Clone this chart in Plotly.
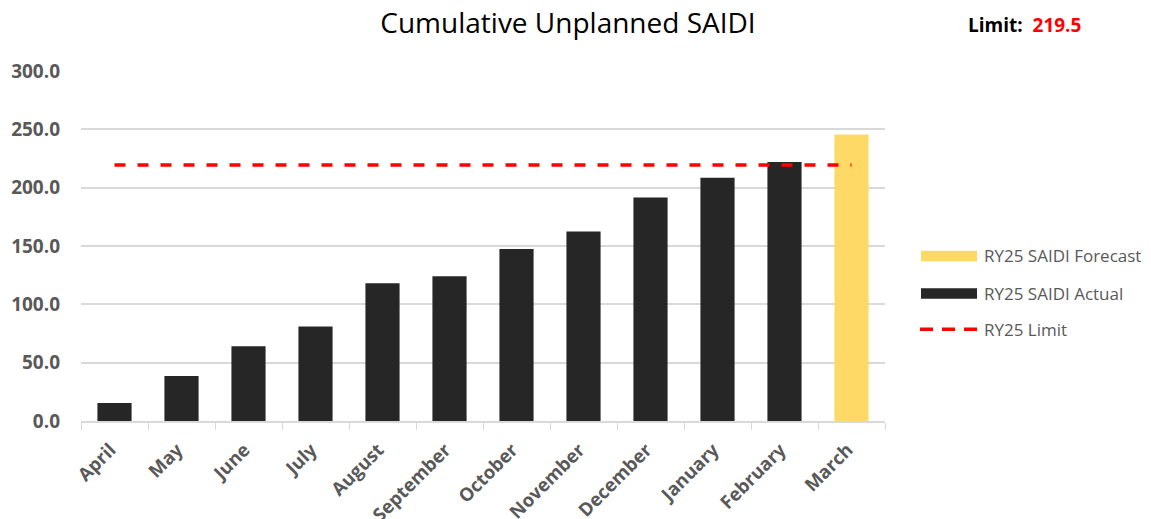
import plotly.graph_objects as go

# Monthly cumulative unplanned SAIDI (minutes)
months = ["April", "May", "June", "July", "August", "September",
          "October", "November", "December", "January", "February", "March"]
actual_months = months[:11]
actual_values = [15.5, 38.5, 64.0, 81.0, 118.0, 124.0, 147.5, 162.5, 191.5, 208.5, 222.0]
forecast_months = ["March"]
forecast_values = [245.5]
limit_value = 219.5

series_names = ["RY25 SAIDI Forecast", "RY25 SAIDI Actual", "RY25 Limit"]
y_ticks = [0, 50, 100, 150, 200, 250, 300]

COL_ACTUAL = "#262626"
COL_FORECAST = "#FFD966"
COL_LIMIT = "#FF0000"
GRID = "#D9D9D9"
TICK_TXT = "#595959"
FONT = "Open Sans"

fig = go.Figure()
fig.add_trace(go.Bar(x=actual_months, y=actual_values, name=series_names[1],
                     marker=dict(color=COL_ACTUAL, line=dict(width=0)), showlegend=False))
fig.add_trace(go.Bar(x=forecast_months, y=forecast_values, name=series_names[0],
                     marker=dict(color=COL_FORECAST, line=dict(width=0)), showlegend=False))
fig.add_trace(go.Scatter(x=months, y=[limit_value] * len(months), mode="lines",
                         name=series_names[2], showlegend=False,
                         line=dict(color=COL_LIMIT, width=3.5, dash="11px,12px")))

L, R, T, B = 81, 266, 71, 97.5
W, H = 1151, 519
pw, ph = W - L - R, H - T - B


def px_x(px):
    return (px - L) / pw


def px_y(py):
    return (H - B - py) / ph


fig.update_layout(
    width=W, height=H,
    margin=dict(l=L, r=R, t=T, b=B, pad=0, autoexpand=False),
    paper_bgcolor="white", plot_bgcolor="white",
    barmode="overlay", bargap=0.49,
    font=dict(family=FONT, color=TICK_TXT),
    title=dict(text="Cumulative Unplanned SAIDI", x=568 / W, xanchor="center",
               y=1 - 23 / H, yanchor="middle", xref="container", yref="container",
               font=dict(family=FONT, size=28, color="#000000")),
    xaxis=dict(categoryorder="array", categoryarray=months, tickangle=-45,
               tickfont=dict(family=FONT, size=18.5, color=TICK_TXT, weight="bold"),
               showline=True, linecolor=GRID, linewidth=1.5, automargin=False,
               ticks="outside", tickson="boundaries", ticklen=7, tickcolor=GRID,
               showgrid=False, ticklabelstandoff=9, ticklabelshift=-4),
    yaxis=dict(range=[0, 300], tickvals=y_ticks, tickformat=".1f", automargin=False,
               tickfont=dict(family=FONT, size=19, color=TICK_TXT, weight="bold"),
               showgrid=True, gridcolor=GRID, gridwidth=1.5, zeroline=False,
               showline=False, ticks="", ticklabelstandoff=20),
)

# Legend drawn as swatches beside the plot
fig.add_shape(type="rect", xref="paper", yref="paper",
              x0=px_x(921), x1=px_x(977), y0=px_y(261.5), y1=px_y(251),
              fillcolor=COL_FORECAST, line=dict(width=0))
fig.add_shape(type="rect", xref="paper", yref="paper",
              x0=px_x(921), x1=px_x(977), y0=px_y(299), y1=px_y(288.5),
              fillcolor=COL_ACTUAL, line=dict(width=0))
fig.add_shape(type="line", xref="paper", yref="paper",
              x0=px_x(920), x1=px_x(977), y0=px_y(329.5), y1=px_y(329.5),
              line=dict(color=COL_LIMIT, width=3.5, dash="13px,9px"))
for name, yc in zip(series_names, [255.5, 293.5, 329.5]):
    fig.add_annotation(text=name, xref="paper", yref="paper", x=px_x(982), y=px_y(yc),
                       xanchor="left", yanchor="middle", showarrow=False,
                       font=dict(family=FONT, size=17, color=TICK_TXT))

fig.add_annotation(text=f"<b>Limit:</b>  <b><span style='color:{COL_LIMIT}'>{limit_value}</span></b>",
                   xref="paper", yref="paper", x=px_x(966), y=px_y(25),
                   xanchor="left", yanchor="middle", showarrow=False,
                   font=dict(family=FONT, size=19, color="#000000"))

fig.write_html("out.html")
